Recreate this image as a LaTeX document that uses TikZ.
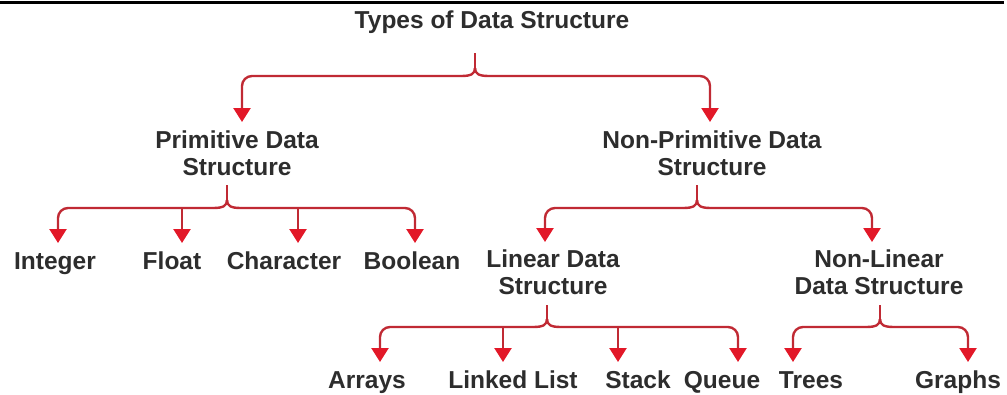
\documentclass[tikz,border=0pt]{standalone}
\usepackage{fontspec}
\setmainfont{Liberation Sans}
\usetikzlibrary{arrows.meta}
\definecolor{lred}{RGB}{192,42,52}
\definecolor{tipred}{RGB}{226,24,40}
\definecolor{txt}{RGB}{45,45,45}
\newcommand\dsbrace[6]{% cx, stub top, hub y, left x, right x, tip y
  \draw[br] (#1,#2) -- (#1,#3-8);
  \draw[br] (#1,#3-8) .. controls (#1,#3-2) and (#1-4,#3) .. (#1-14,#3);
  \draw[br] (#1,#3-8) .. controls (#1,#3-2) and (#1+4,#3) .. (#1+14,#3);
  \draw[arr] (#1-14,#3) -- (#4,#3) -- (#4,#6);
  \draw[arr] (#1+14,#3) -- (#5,#3) -- (#5,#6);
}
\begin{document}
\begin{tikzpicture}[x=1pt,y=-1pt,
  lbl/.style={font=\bfseries\fontsize{24.5}{27}\selectfont, text=txt, inner sep=0pt, align=center},
  one/.style={lbl, text height=17.5pt, text depth=0pt},
  br/.style={draw=lred, line width=2.4pt},
  arr/.style={br, -{Triangle[width=17pt,length=14pt,color=tipred]}, rounded corners=10pt},
  arrs/.style={br, -{Triangle[width=17pt,length=14pt,color=tipred]}}]
\useasboundingbox (0,0) rectangle (1007,394);
\fill[black] (0,0.5) rectangle (1004,3.5);

% labels
\node[one] (title) at (492,20) {Types of Data Structure};
\node[lbl] (prim) at (237,153) {Primitive Data\\Structure};
\node[lbl] (nprim) at (712,153) {Non-Primitive Data\\Structure};
\node[one] (int) at (55,261) {Integer};
\node[one] (flt) at (172,261) {Float};
\node[one] (chr) at (284,261) {Character};
\node[one] (bool) at (412,261) {Boolean};
\node[lbl] (lin) at (553,272) {Linear Data\\Structure};
\node[lbl] (nlin) at (879,272) {Non-Linear\\Data Structure};
\node[one] (arr) at (367,380) {Arrays};
\node[one] (ll) at (513,380) {Linked List};
\node[one] (stk) at (638,380) {Stack};
\node[one] (que) at (722,380) {Queue};
\node[one] (tre) at (811,380) {Trees};
\node[one] (gra) at (958,380) {Graphs};

% braces
\dsbrace{475}{53}{76}{242}{710}{122}
\dsbrace{227}{185}{208}{58}{415}{243}
\draw[arrs] (182,207) -- (182,243);
\draw[arrs] (298,207) -- (298,243);
\dsbrace{697}{185}{208}{545}{872}{242}
\dsbrace{547}{305}{327}{380}{738}{362}
\draw[arrs] (503,326) -- (503,362);
\draw[arrs] (618,326) -- (618,362);
\dsbrace{880}{305}{327}{793}{968}{362}
\end{tikzpicture}
\end{document}
